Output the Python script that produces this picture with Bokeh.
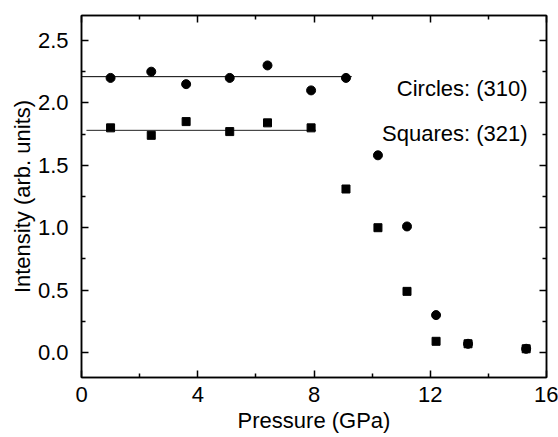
from bokeh.plotting import figure
from bokeh.models import (LinearAxis, FixedTicker, NumeralTickFormatter,
                          CustomJSTickFormatter, Label, Range1d)
from bokeh.embed import file_html
from bokeh.resources import INLINE

# Intensity of two reflections versus pressure
pressure = [1.0, 2.4, 3.6, 5.1, 6.4, 7.9, 9.1, 10.2, 11.2, 12.2, 13.3, 15.3]
circles_310 = [2.20, 2.25, 2.15, 2.20, 2.30, 2.10, 2.20, 1.58, 1.01, 0.30, 0.07, 0.03]
squares_321 = [1.80, 1.74, 1.85, 1.77, 1.84, 1.80, 1.31, 1.00, 0.49, 0.09, 0.07, 0.03]

# constant-intensity guide lines (x start, x end, level)
circle_level = [0.0, 9.3, 2.21]
square_level = [0.17, 8.07, 1.78]

x_ticks = [0, 4, 8, 12, 16]
x_minor = [2, 6, 10, 14]
y_ticks = [0.0, 0.5, 1.0, 1.5, 2.0, 2.5]
y_minor = [0.25, 0.75, 1.25, 1.75, 2.25]

FONT = "Liberation Sans"
FS = "22px"

p = figure(width=558, height=437, output_backend="svg", toolbar_location=None,
           x_range=Range1d(0, 16), y_range=Range1d(-0.2, 2.7),
           min_border_left=81, min_border_right=12,
           min_border_top=15, min_border_bottom=60,
           background_fill_color="white", border_fill_color="white")
p.grid.visible = False
p.outline_line_color = "black"
p.outline_line_width = 1.5

def style(ax, labels=True):
    ax.axis_line_width = 1.5
    ax.axis_line_color = "black"
    ax.major_tick_in = 7
    ax.major_tick_out = 0
    ax.minor_tick_in = 4
    ax.minor_tick_out = 0
    ax.major_tick_line_width = 1.5
    ax.minor_tick_line_width = 1.5
    ax.major_label_text_font = FONT
    ax.major_label_text_font_size = FS
    ax.major_label_text_color = "black"
    ax.axis_label_text_font = FONT
    ax.axis_label_text_font_size = FS
    ax.axis_label_text_font_style = "normal"
    ax.axis_label_text_color = "black"
    if not labels:
        ax.formatter = CustomJSTickFormatter(code="return ''")
        ax.major_label_standoff = 0

xt = FixedTicker(ticks=x_ticks, minor_ticks=x_minor)
yt = FixedTicker(ticks=y_ticks, minor_ticks=y_minor)

p.xaxis.ticker = xt
p.yaxis.ticker = yt
p.yaxis.formatter = NumeralTickFormatter(format="0.0")
p.xaxis.axis_label = "Pressure (GPa)"
p.yaxis.axis_label = "Intensity (arb. units)"
style(p.xaxis[0])
style(p.yaxis[0])
p.xaxis.major_label_standoff = 9
p.yaxis.major_label_standoff = 13
p.xaxis.axis_label_standoff = 3
p.yaxis.axis_label_standoff = 0

top = LinearAxis(ticker=xt)
style(top, labels=False)
p.add_layout(top, "above")
right = LinearAxis(ticker=yt)
style(right, labels=False)
p.add_layout(right, "right")

p.line([circle_level[0], circle_level[1]], [circle_level[2], circle_level[2]],
       line_color="black", line_width=1)
p.line([square_level[0], square_level[1]], [square_level[2], square_level[2]],
       line_color="#222222", line_width=1)

p.scatter(pressure, circles_310, marker="circle", size=9,
          fill_color="black", line_color="black")
p.scatter(pressure, squares_321, marker="square", size=8,
          fill_color="black", line_color="black")

for txt, y in [("Circles: (310)", 2.113), ("Squares: (321)", 1.756)]:
    p.add_layout(Label(x=15.35, y=y, text=txt, text_align="right",
                       text_baseline="alphabetic", text_font=FONT,
                       text_font_size=FS, text_color="black"))

open("out.html", "w").write(file_html(p, INLINE))
